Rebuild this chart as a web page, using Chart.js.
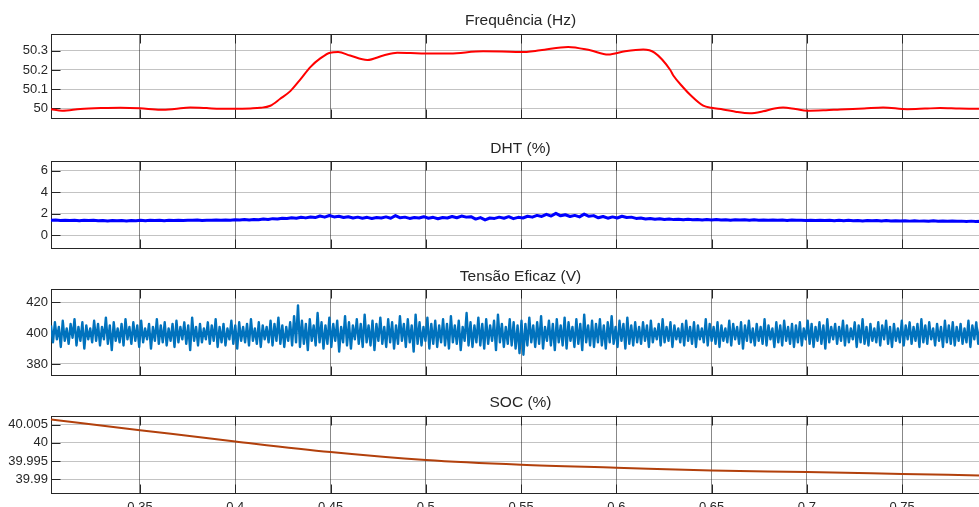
<!DOCTYPE html>
<html><head><meta charset="utf-8">
<script src="https://cdn.jsdelivr.net/npm/chart.js@4"></script>
<style>
html,body{margin:0;padding:0;width:979px;height:507px;overflow:hidden;background:#fff;}
canvas{position:absolute;left:0;}
</style></head><body>
<canvas id="c1" width="1000" height="130" style="top:0px"></canvas>
<canvas id="c2" width="1000" height="130" style="top:130px"></canvas>
<canvas id="c3" width="1000" height="130" style="top:260px"></canvas>
<canvas id="c4" width="1000" height="140" style="top:390px"></canvas>
<script>
// ---- shared x axis ----
const xMin = 0.3033, xMax = 0.7961;
const xTicks = [0.35, 0.4, 0.45, 0.5, 0.55, 0.6, 0.65, 0.7, 0.75];
const xTickLabels = ['0.35', '0.4', '0.45', '0.5', '0.55', '0.6', '0.65', '0.7', '0.75'];

// ---- Frequência (Hz) ----
const freqTitle = 'Frequência (Hz)';
const freqT = [0.3033,0.3092,0.3187,0.3300,0.3397,0.3500,0.3607,0.3680,0.3764,0.3850,0.3921,0.4000,0.4080,0.4131,0.4184,0.4236,0.4289,0.4341,0.4394,0.4446,0.4498,0.4540,0.4603,0.4693,0.4777,0.4850,0.4920,0.4997,0.5128,0.5301,0.5400,0.5496,0.5600,0.5747,0.5863,0.5957,0.6046,0.6141,0.6200,0.6283,0.6300,0.6350,0.6390,0.6456,0.6500,0.6560,0.6630,0.6700,0.6770,0.6830,0.6875,0.6940,0.7002,0.7100,0.7175,0.7300,0.7400,0.7527,0.7620,0.7700,0.7800,0.7903,0.7961];
const freqV = [49.996,49.988,49.997,50.002,50.004,50.001,49.993,49.997,50.005,50.002,49.998,49.998,50.000,50.003,50.014,50.050,50.090,50.150,50.215,50.260,50.290,50.293,50.275,50.252,50.275,50.290,50.288,50.285,50.286,50.297,50.296,50.293,50.302,50.320,50.302,50.280,50.297,50.306,50.290,50.200,50.170,50.110,50.068,50.014,50.003,49.995,49.982,49.975,49.985,50.000,50.005,49.997,49.988,49.991,49.995,50.000,50.005,49.996,49.999,50.002,49.999,49.998,49.998];
const freqTicks = [50, 50.1, 50.2, 50.3];
const freqTickLabels = ['50', '50.1', '50.2', '50.3'];

// ---- DHT (%) ----
const dhtTitle = 'DHT (%)';
const dhtV = [1.40,1.43,1.38,1.41,1.39,1.42,1.37,1.40,1.38,1.41,
1.36,1.39,1.35,1.38,1.36,1.39,1.35,1.38,1.36,1.40,
1.37,1.40,1.38,1.41,1.37,1.40,1.39,1.42,1.38,1.41,
1.40,1.43,1.39,1.42,1.41,1.44,1.40,1.43,1.42,1.45,
1.43,1.47,1.44,1.48,1.46,1.52,1.49,1.56,1.53,1.60,
1.58,1.64,1.60,1.68,1.63,1.72,1.66,1.80,1.70,1.85,
1.72,1.78,1.66,1.74,1.62,1.70,1.60,1.68,1.58,1.66,
1.62,1.72,1.60,1.84,1.64,1.70,1.58,1.66,1.62,1.74,
1.60,1.68,1.55,1.66,1.62,1.76,1.64,1.80,1.70,1.74,
1.52,1.66,1.44,1.62,1.58,1.70,1.60,1.74,1.56,1.68,
1.62,1.78,1.70,1.86,1.76,1.96,1.80,2.05,1.82,1.92,
1.76,1.86,1.72,1.98,1.78,1.84,1.64,1.76,1.60,1.72,
1.62,1.78,1.66,1.70,1.58,1.62,1.52,1.58,1.50,1.55,
1.48,1.53,1.47,1.51,1.46,1.50,1.45,1.49,1.44,1.48,
1.44,1.47,1.43,1.46,1.42,1.46,1.43,1.45,1.41,1.45,
1.42,1.44,1.40,1.44,1.41,1.43,1.39,1.43,1.40,1.42,
1.39,1.42,1.38,1.41,1.38,1.40,1.37,1.41,1.37,1.40,
1.36,1.39,1.35,1.39,1.36,1.38,1.34,1.38,1.35,1.37,
1.34,1.37,1.33,1.36,1.33,1.35,1.32,1.36,1.32,1.34,
1.31,1.34,1.31,1.33,1.30,1.33,1.30,1.32,1.29,1.31];
const dhtTicks = [0, 2, 4, 6];
const dhtTickLabels = ['0', '2', '4', '6'];

// ---- Tensão Eficaz (V) ----
const vTitle = 'Tensão Eficaz (V)';
const vV = [405,394,407,396,404,391,408,395,403,393,406,397,409,392,404,395,407,390,405,396,
403,394,408,395,406,392,404,396,410,393,405,389,407,395,403,394,406,392,409,396,
404,393,407,395,405,391,408,394,403,396,406,390,404,395,409,393,405,394,407,392,
403,395,406,391,408,394,404,396,407,393,405,389,410,395,404,392,406,394,403,396,
407,393,405,395,409,391,404,394,406,392,403,396,408,393,405,390,407,395,404,394,
406,392,409,395,403,393,407,391,405,396,404,394,408,392,406,395,410,393,405,391,
404,395,407,392,411,394,418,391,408,393,406,389,409,395,405,392,413,394,407,390,
405,393,410,391,406,395,408,388,404,394,411,392,407,390,405,396,409,393,406,391,
412,394,405,392,408,389,406,395,410,393,404,391,409,394,407,390,405,393,411,395,
406,391,409,394,405,388,412,393,407,392,404,395,410,390,406,393,408,391,405,394,
409,392,406,390,411,394,405,393,408,389,404,395,413,392,407,391,405,394,410,392,
406,390,409,393,405,395,408,389,412,394,406,391,404,393,409,392,407,390,405,387,
408,386,406,392,410,394,405,391,407,393,411,390,404,395,408,392,406,389,409,394,
405,392,410,390,407,395,404,391,409,393,406,389,412,394,405,392,408,391,406,394,
409,392,405,390,407,394,411,393,404,391,408,395,406,390,410,393,405,392,407,394,
404,393,407,395,405,391,408,394,403,396,406,392,409,394,404,395,407,391,405,396,
403,394,406,392,408,395,404,393,407,391,405,396,403,394,409,392,406,395,404,393,
407,391,405,395,403,394,408,392,406,396,404,393,407,390,405,395,408,394,403,392,
406,395,404,393,409,392,405,396,403,391,407,394,405,392,408,395,404,393,406,391,
405,394,407,392,403,396,408,393,406,391,404,395,407,393,405,390,409,394,404,396,
406,393,404,395,408,392,405,394,403,396,407,391,405,394,409,393,404,392,406,395,
403,394,407,392,405,396,408,393,404,391,406,395,403,394,408,392,405,396,407,393,
404,395,406,391,409,394,405,393,407,396,403,392,406,395,404,391,408,394,405,393,
407,392,404,395,406,393,403,394,408,391,405,396,407,393,404,395,406,392,405,394];
const vTicks = [380, 400, 420];
const vTickLabels = ['380', '400', '420'];

// ---- SOC (%) ----
const socTitle = 'SOC (%)';
const socT = [0.3033, 0.35, 0.40, 0.45, 0.50, 0.55, 0.60, 0.65, 0.70, 0.75, 0.7961];
const socV = [40.0064, 40.0035, 40.0004, 39.9975, 39.9953, 39.9940, 39.9932, 39.9924, 39.9920, 39.99148, 39.9910];
const socTicks = [39.99, 39.995, 40, 40.005];
const socTickLabels = ['39.99', '39.995', '40', '40.005'];

// ---- helpers ----
const FONT = '"Liberation Sans", Arial, Helvetica, sans-serif';
const TXT = '#262626';
function sampled(vals) {
  const n = vals.length;
  return vals.map((v, i) => ({ x: xMin + i * (xMax - xMin) / (n - 1), y: v }));
}
function paired(ts, vs) { return ts.map((t, i) => ({ x: t, y: vs[i] })); }

const framePlugin = {
  id: 'frame',
  beforeDatasetsDraw(chart, args, opts) {
    const { ctx, chartArea: a, scales: { x, y } } = chart;
    ctx.save();
    ctx.strokeStyle = TXT; ctx.lineWidth = 1;
    const L = Math.round(a.left) + 0.5, R = Math.round(a.right) + 0.5;
    const T = Math.round(a.top) + 0.5, B = Math.round(a.bottom) - 0.5;
    ctx.strokeRect(L, T, R - L, B - T);
    const tl = 9;
    ctx.beginPath();
    x.ticks.forEach(t => {
      const px = Math.round(x.getPixelForValue(t.value)) + 0.5;
      ctx.moveTo(px, T); ctx.lineTo(px, T + tl);
      ctx.moveTo(px, B); ctx.lineTo(px, B - tl);
    });
    y.ticks.forEach(t => {
      const py = Math.round(y.getPixelForValue(t.value)) + 0.5;
      ctx.moveTo(L, py); ctx.lineTo(L + tl, py);
    });
    ctx.stroke();
    ctx.fillStyle = TXT;
    ctx.font = '15.5px ' + FONT;
    ctx.textAlign = 'center'; ctx.textBaseline = 'middle';
    ctx.fillText(opts.text, (a.left + a.right) / 2, a.top - 13);
    ctx.restore();
  }
};

function makeChart(id, data, color, width, yMin, yMax, yTicks, yLabels, title, padTop, padBottom, showX, smooth) {
  return new Chart(document.getElementById(id), {
    type: 'line',
    data: { datasets: [{ data: data, borderColor: color, borderWidth: width, pointRadius: 0,
      borderJoinStyle: 'round',
      tension: smooth ? 0.4 : 0, cubicInterpolationMode: smooth ? 'monotone' : 'default', fill: false }] },
    options: {
      responsive: false, animation: false, devicePixelRatio: 1,
      layout: { padding: { top: padTop, bottom: padBottom, left: 0, right: 10 } },
      plugins: { legend: { display: false }, tooltip: { enabled: false }, title: { display: false }, frame: { text: title } },
      scales: {
        x: {
          type: 'linear', min: xMin, max: xMax,
          afterBuildTicks: s => { s.ticks = xTicks.map(v => ({ value: v })); },
          afterFit: s => { s.height = showX ? 30 : 0; },
          ticks: { display: showX, autoSkip: false, maxRotation: 0, padding: 6, color: TXT,
            font: { family: FONT, size: 13 },
            callback: (v) => xTickLabels[xTicks.indexOf(v)] },
          grid: { color: 'rgba(38,38,38,0.55)', lineWidth: 1, drawTicks: false },
          border: { display: false }
        },
        y: {
          type: 'linear', min: yMin, max: yMax,
          afterBuildTicks: s => { s.ticks = yTicks.map(v => ({ value: v })); },
          afterFit: s => { s.width = 51; },
          ticks: { autoSkip: false, padding: 3, color: TXT, font: { family: FONT, size: 13 },
            callback: (v) => yLabels[yTicks.indexOf(v)] },
          grid: { color: 'rgba(38,38,38,0.28)', lineWidth: 1, drawTicks: false },
          border: { display: false }
        }
      }
    },
    plugins: [framePlugin]
  });
}

makeChart('c1', paired(freqT, freqV), '#ff0000', 2, 49.944, 50.387, freqTicks, freqTickLabels, freqTitle, 34, 8.7, false, true);
makeChart('c2', sampled(dhtV), '#0000ff', 3, -1.27, 6.87, dhtTicks, dhtTickLabels, dhtTitle, 31.3, 10.7, false, false);
makeChart('c3', sampled(vV), '#0072bd', 2.4, 372.4, 428.4, vTicks, vTickLabels, vTitle, 29.3, 14.3, false, false);
makeChart('c4', paired(socT, socV), '#b2400c', 2, 39.98596, 40.00747, socTicks, socTickLabels, socTitle, 25.7, 6, true, true);
</script>
</body></html>
